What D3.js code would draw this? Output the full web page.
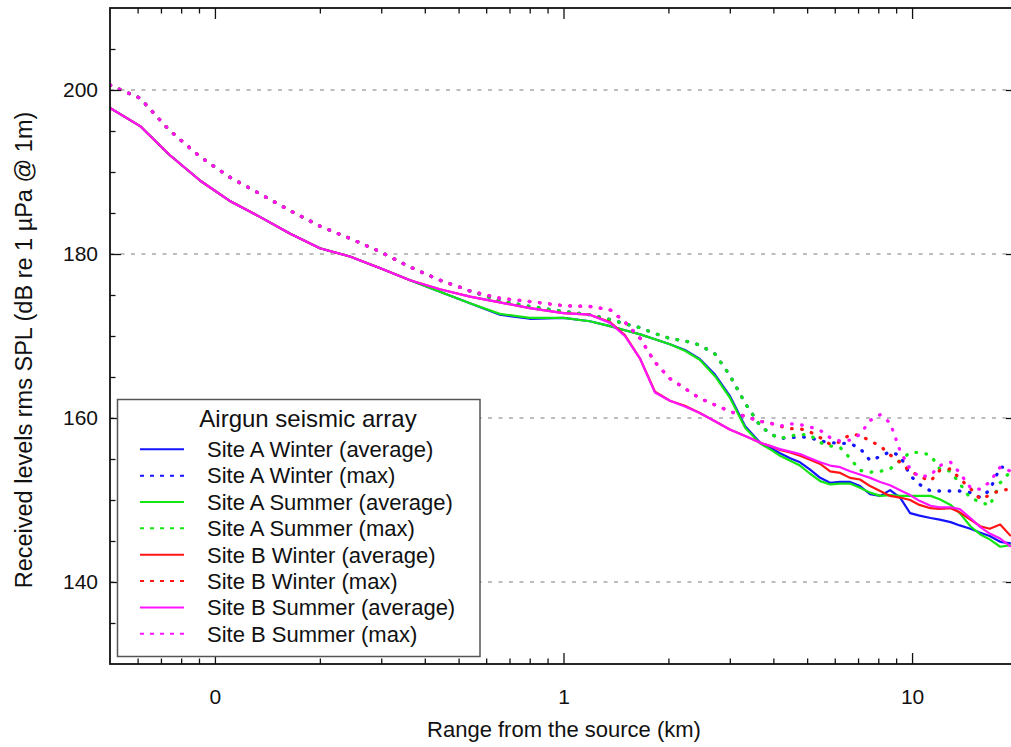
<!DOCTYPE html>
<html>
<head>
<meta charset="utf-8">
<script src="https://cdn.jsdelivr.net/npm/d3@7"></script>
<style>
  body { margin: 0; background: #fff; }
  svg { display: block; font-family: "Liberation Sans", Arial, Helvetica, sans-serif; }
</style>
</head>
<body>
<svg id="chart" width="1011" height="747"></svg>
<script>
// Range from the source (km), shared by every series
const rangeKm = [0.05, 0.061, 0.074, 0.091, 0.110, 0.135, 0.164, 0.200, 0.244, 0.297,
  0.363, 0.442, 0.539, 0.657, 0.80, 1.0, 1.19, 1.36, 1.50, 1.66,
  1.83, 2.02, 2.23, 2.46, 2.72, 3.00, 3.32, 3.66, 3.91, 4.18,
  4.47, 4.77, 5.10, 5.45, 5.82, 6.22, 6.64, 7.09, 7.58, 8.10,
  8.65, 9.24, 9.87, 10.5, 11.3, 12.0, 12.9, 13.7, 14.7, 15.7,
  16.7, 17.9, 19.2];

// Received levels, rms SPL (dB re 1 µPa @ 1m)
const siteAWinterAvg = [197.8, 195.6, 192.1, 188.9, 186.5, 184.5, 182.5, 180.7, 179.7, 178.3,
  176.8, 175.4, 174.0, 172.6, 172.1, 172.2, 171.8, 171.2, 170.7, 170.2,
  169.6, 169.0, 168.3, 167.2, 165.3, 162.7, 159.0, 157.0, 156.4, 155.7,
  155.1, 154.6, 153.7, 152.7, 152.1, 152.2, 152.2, 151.7, 150.7, 150.5,
  151.2, 150.3, 148.4, 148.1, 147.8, 147.6, 147.3, 146.9, 146.5, 146.0,
  145.6, 144.9, 144.7];
const siteAWinterMax = [200.6, 199.0, 195.1, 191.8, 189.4, 187.3, 185.3, 183.4, 181.9, 180.3,
  178.4, 176.8, 175.5, 174.3, 173.6, 173.0, 172.6, 172.0, 171.5, 171.0,
  170.3, 169.7, 169.4, 168.9, 167.8, 165.2, 161.8, 159.1, 158.1, 157.5,
  157.6, 157.7, 157.6, 157.2, 157.0, 156.9, 156.9, 156.3, 154.8, 155.3,
  155.9, 155.4, 153.0, 151.9, 151.1, 151.1, 151.1, 151.1, 150.9, 150.3,
  151.2, 154.0, 154.0];
const siteASummerAvg = [197.8, 195.6, 192.1, 188.9, 186.5, 184.5, 182.5, 180.7, 179.7, 178.3,
  176.8, 175.4, 174.0, 172.7, 172.2, 172.2, 171.8, 171.2, 170.7, 170.2,
  169.6, 169.0, 168.2, 167.1, 165.1, 162.5, 158.8, 156.9, 156.2, 155.4,
  154.8, 154.2, 153.2, 152.3, 151.9, 152.0, 152.0, 151.5, 150.9, 150.5,
  150.6, 150.5, 150.5, 150.5, 150.5, 150.1, 149.4, 148.4, 146.8, 145.8,
  145.2, 144.3, 144.5];
const siteASummerMax = [200.6, 199.0, 195.1, 191.8, 189.4, 187.3, 185.3, 183.4, 181.9, 180.3,
  178.4, 176.8, 175.5, 174.3, 173.6, 173.0, 172.6, 172.0, 171.5, 171.0,
  170.3, 169.7, 169.4, 168.9, 167.8, 165.2, 161.8, 159.1, 158.1, 157.5,
  157.8, 158.0, 157.9, 157.0, 156.6, 156.4, 155.1, 153.6, 153.4, 153.5,
  153.8, 154.8, 155.8, 155.8, 155.5, 153.8, 153.5, 152.0, 150.2, 149.8,
  149.3, 152.1, 153.5];
const siteBWinterAvg = [197.8, 195.6, 192.1, 188.9, 186.5, 184.5, 182.5, 180.7, 179.7, 178.3,
  176.8, 175.7, 174.8, 174.1, 173.4, 172.8, 172.6, 171.7, 170.1, 167.2,
  163.2, 162.1, 161.5, 160.6, 159.6, 158.6, 157.8, 157.0, 156.6, 156.1,
  155.8, 155.4, 154.9, 154.4, 153.5, 153.3, 152.7, 152.5, 151.7, 151.1,
  150.5, 150.3, 150.0, 149.4, 149.0, 148.9, 149.0, 148.5, 147.6, 146.8,
  146.5, 147.0, 145.6];
const siteBWinterMax = [200.6, 199.0, 195.1, 191.8, 189.4, 187.3, 185.3, 183.4, 181.9, 180.3,
  178.4, 176.8, 175.5, 174.6, 174.2, 173.7, 173.6, 173.2, 171.7, 169.7,
  166.8, 164.8, 163.6, 162.4, 161.6, 160.8, 160.2, 159.6, 159.4, 159.0,
  158.7, 158.7, 158.3, 157.6, 156.8, 157.1, 158.0, 157.9, 157.2, 156.6,
  155.5, 154.6, 153.5, 152.9, 152.3, 153.6, 153.8, 152.6, 151.4, 150.1,
  150.6, 151.2, 151.3];
const siteBSummerAvg = [197.8, 195.6, 192.1, 188.9, 186.5, 184.5, 182.5, 180.7, 179.7, 178.3,
  176.8, 175.7, 174.8, 174.1, 173.4, 172.8, 172.6, 171.6, 170.0, 167.2,
  163.1, 162.1, 161.4, 160.6, 159.6, 158.6, 157.8, 157.0, 156.6, 156.2,
  155.9, 155.6, 155.1, 154.6, 154.2, 154.0, 153.5, 153.1, 152.7, 152.2,
  151.8, 151.2, 150.6, 149.9, 149.3, 149.1, 149.1, 148.9, 147.8, 146.7,
  145.9, 145.3, 144.3];
const siteBSummerMax = [200.6, 199.0, 195.1, 191.8, 189.4, 187.3, 185.3, 183.4, 181.9, 180.3,
  178.4, 176.8, 175.5, 174.6, 174.2, 173.7, 173.6, 173.2, 171.7, 169.7,
  166.8, 164.8, 163.6, 162.4, 161.6, 160.8, 160.2, 159.6, 159.4, 159.0,
  159.3, 159.2, 158.9, 158.5, 157.6, 157.2, 157.3, 158.0, 159.7, 160.4,
  159.4, 156.0, 153.8, 152.8, 153.0, 154.2, 154.6, 153.3, 151.5, 151.3,
  152.2, 154.0, 153.5];

const seriesNames = ["Site A Winter (average)", "Site A Winter (max)",
  "Site A Summer (average)", "Site A Summer (max)",
  "Site B Winter (average)", "Site B Winter (max)",
  "Site B Summer (average)", "Site B Summer (max)"];

const xTickValues = [0.1, 1, 10];
const xTickLabels = ["0", "1", "10"];
const yTickValues = [140, 160, 180, 200];
const legendTitle = "Airgun seismic array";
const xTitle = "Range from the source (km)";
const yTitle = "Received levels rms SPL (dB re 1 µPa @ 1m)";

// ---- drawing ----
const series = [
  { name: seriesNames[0], values: siteAWinterAvg, color: "#1414ff", dotted: false },
  { name: seriesNames[1], values: siteAWinterMax, color: "#1414ff", dotted: true },
  { name: seriesNames[2], values: siteASummerAvg, color: "#14e614", dotted: false },
  { name: seriesNames[3], values: siteASummerMax, color: "#14e614", dotted: true },
  { name: seriesNames[4], values: siteBWinterAvg, color: "#ff1414", dotted: false },
  { name: seriesNames[5], values: siteBWinterMax, color: "#ff1414", dotted: true },
  { name: seriesNames[6], values: siteBSummerAvg, color: "#ff14ff", dotted: false },
  { name: seriesNames[7], values: siteBSummerMax, color: "#ff14ff", dotted: true }
];

const plot = { left: 110, right: 1017, top: 8, bottom: 664 };
const x = d3.scaleLog().domain([0.05, 20]).range([plot.left, plot.right]);
const y = d3.scaleLinear().domain([130, 210]).range([plot.bottom, plot.top]);

const svg = d3.select("#chart");

svg.append("defs").append("clipPath").attr("id", "plot-clip")
  .append("rect")
  .attr("x", plot.left).attr("y", plot.top)
  .attr("width", plot.right - plot.left).attr("height", plot.bottom - plot.top);

// dashed horizontal grid at labelled levels
svg.append("g").attr("class", "grid")
  .selectAll("line").data(yTickValues).join("line")
  .attr("x1", plot.left).attr("x2", plot.right)
  .attr("y1", d => y(d)).attr("y2", d => y(d))
  .attr("stroke", "#a8a8a8").attr("stroke-width", 1.4)
  .attr("stroke-dasharray", "4,6.5");

// curves (straight segments between samples)
const line = d3.line()
  .x((d, i) => x(rangeKm[i]))
  .y(d => y(d));

svg.append("g").attr("clip-path", "url(#plot-clip)")
  .selectAll("path").data(series).join("path")
  .attr("d", d => line(d.values))
  .attr("fill", "none")
  .attr("stroke", d => d.color)
  .attr("stroke-width", d => d.dotted ? 3.3 : 2.2)
  .attr("stroke-dasharray", d => d.dotted ? "0.6,9.6" : null)
  .attr("stroke-linecap", d => d.dotted ? "round" : "butt")
  .attr("stroke-linejoin", "round");

// axes: ticks point inward on all four sides
const xMinor = x.ticks().filter(v => !xTickValues.some(t => Math.abs(t - v) < 1e-9)
  && v > 0.05 + 1e-9 && v < 20 - 1e-9);
const yMinor = d3.range(135, 210, 5).filter(v => !yTickValues.includes(v));

function styleAxis(g) {
  g.select(".domain").remove();
  g.selectAll(".tick line").attr("stroke", "#111").attr("stroke-width", 1.3);
  g.selectAll(".tick text").attr("fill", "#111").style("font-size", "21px")
    .style("font-family", "\"Liberation Sans\", Arial, sans-serif");
}

const labelOf = v => xTickLabels[xTickValues.indexOf(v)];

svg.append("g").attr("transform", `translate(0,${plot.bottom})`)
  .call(d3.axisBottom(x).tickValues(xTickValues).tickFormat(labelOf).tickSize(-11).tickPadding(25))
  .call(styleAxis);
svg.append("g").attr("transform", `translate(0,${plot.bottom})`)
  .call(d3.axisBottom(x).tickValues(xMinor).tickFormat("").tickSize(-5.5))
  .call(styleAxis);
svg.append("g").attr("transform", `translate(0,${plot.top})`)
  .call(d3.axisTop(x).tickValues(xTickValues).tickFormat("").tickSize(-11))
  .call(styleAxis);
svg.append("g").attr("transform", `translate(0,${plot.top})`)
  .call(d3.axisTop(x).tickValues(xMinor).tickFormat("").tickSize(-5.5))
  .call(styleAxis);

svg.append("g").attr("transform", `translate(${plot.left},0)`)
  .call(d3.axisLeft(y).tickValues(yTickValues).tickFormat(d3.format("d")).tickSize(-11).tickPadding(12))
  .call(styleAxis);
svg.append("g").attr("transform", `translate(${plot.left},0)`)
  .call(d3.axisLeft(y).tickValues(yMinor).tickFormat("").tickSize(-5.5))
  .call(styleAxis);
svg.append("g").attr("transform", `translate(${plot.right},0)`)
  .call(d3.axisRight(y).tickValues(yTickValues).tickFormat("").tickSize(-11))
  .call(styleAxis);
svg.append("g").attr("transform", `translate(${plot.right},0)`)
  .call(d3.axisRight(y).tickValues(yMinor).tickFormat("").tickSize(-5.5))
  .call(styleAxis);

// frame
svg.append("rect")
  .attr("x", plot.left).attr("y", plot.top)
  .attr("width", plot.right - plot.left).attr("height", plot.bottom - plot.top)
  .attr("fill", "none").attr("stroke", "#111").attr("stroke-width", 1.8);

// axis titles
svg.append("text")
  .attr("x", 564).attr("y", 737)
  .attr("text-anchor", "middle")
  .style("font-size", "22px").attr("fill", "#111")
  .text(xTitle);

svg.append("text")
  .attr("transform", "translate(32,350) rotate(-90)")
  .attr("text-anchor", "middle")
  .style("font-size", "23.5px").attr("fill", "#111")
  .text(yTitle);

// legend
const legend = svg.append("g").attr("class", "legend");
legend.append("rect")
  .attr("x", 117.5).attr("y", 399.5).attr("width", 362.5).attr("height", 257)
  .attr("fill", "#fff").attr("stroke", "#555").attr("stroke-width", 1.5);
legend.append("text")
  .attr("x", 308).attr("y", 427)
  .attr("text-anchor", "middle")
  .style("font-size", "24px").attr("fill", "#111")
  .text(legendTitle);

const rows = legend.selectAll("g.row").data(series).join("g")
  .attr("class", "row")
  .attr("transform", (d, i) => `translate(0,${449.3 + i * 26.35})`);
rows.append("line")
  .attr("x1", 140).attr("x2", 184)
  .attr("stroke", d => d.color)
  .attr("stroke-width", 2)
  .attr("stroke-dasharray", d => d.dotted ? "4,6" : null);
rows.append("text")
  .attr("x", 207).attr("y", 7.8)
  .style("font-size", "22px").attr("fill", "#111")
  .text(d => d.name);
</script>
</body>
</html>
